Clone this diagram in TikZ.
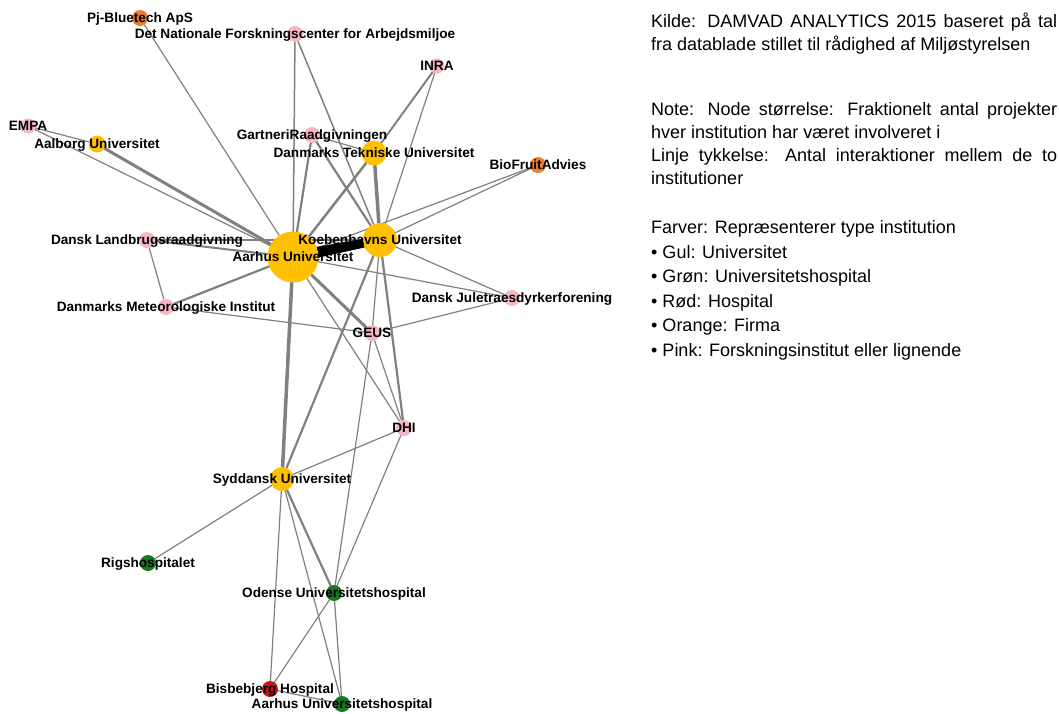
\documentclass[tikz,border=0pt]{standalone}
\usepackage{fontspec}
\setmainfont{Liberation Sans}
\usetikzlibrary{backgrounds,calc}
\definecolor{gul}{RGB}{255,192,0}
\definecolor{lyserod}{RGB}{246,182,194}
\definecolor{orangefirma}{RGB}{237,125,49}
\definecolor{groen}{RGB}{22,120,32}
\definecolor{roed}{RGB}{200,20,20}
\definecolor{kant}{RGB}{128,128,128}

\begin{document}
\begin{tikzpicture}[x=1pt, y=-1pt,
  inst/.style={circle, inner sep=0pt, minimum size=16pt},
  univ/.style={inst, fill=gul},
  forsk/.style={inst, fill=lyserod},
  firma/.style={inst, fill=orangefirma},
  uhosp/.style={inst, fill=groen},
  hosp/.style={inst, fill=roed},
  forb/.style={draw=kant, line cap=round},
  lbl/.style={font=\bfseries\fontsize{13.6}{15}\selectfont, inner sep=0pt, anchor=base},
  txt/.style={font=\fontsize{18}{22}\selectfont, inner sep=0pt, anchor=base west}]
\useasboundingbox (0,0) rectangle (1059,713);

% institutioner
\node[firma] (pj) at (140,18) {};
\node[forsk] (dnfa) at (295,34) {};
\node[forsk, minimum size=15pt] (inra) at (437,66) {};
\node[forsk, minimum size=15pt] (empa) at (28,126) {};
\node[univ, minimum size=17pt] (aau) at (97,144) {};
\node[forsk] (gartneri) at (312,135) {};
\node[univ, minimum size=25pt] (dtu) at (374,153) {};
\node[firma] (bio) at (538,165) {};
\node[forsk] (dl) at (147,240) {};
\node[univ, minimum size=51pt] (au) at (293,257) {};
\node[univ, minimum size=34pt] (ku) at (380,240) {};
\node[forsk] (dmi) at (166,307) {};
\node[forsk] (dj) at (512,298) {};
\node[forsk] (geus) at (372,333) {};
\node[forsk] (dhi) at (404,428) {};
\node[univ, minimum size=24pt] (sdu) at (282,479) {};
\node[uhosp] (rigs) at (148,563) {};
\node[uhosp] (ouh) at (334,593) {};
\node[hosp] (bbh) at (270,689) {};
\node[uhosp] (auh) at (342,704) {};

% forbindelser
\begin{scope}[on background layer]
\foreach \a/\b/\w in {empa/aau/1.2, empa/au/1.2, aau/au/3, pj/au/1.2, dnfa/au/1.5,
    dnfa/ku/1.5, inra/dtu/2, inra/ku/1.2, gartneri/dtu/1.2, gartneri/au/2.2,
    gartneri/ku/2.2, dtu/au/2.5, dtu/ku/3.5, bio/au/1.2, bio/ku/1.2, dl/ku/1.2,
    dl/au/2, dl/dmi/1.2, dmi/au/2.2, dmi/geus/1.2, au/geus/3, au/dhi/1.2,
    au/dj/1.2, au/sdu/3.5, ku/dj/1.2, ku/geus/1.2, ku/dhi/2.2, ku/sdu/2.2,
    geus/dj/1.2, geus/dhi/1.2, geus/ouh/1.2, dhi/sdu/1.2, dhi/ouh/1.2,
    rigs/sdu/1.2, sdu/ouh/2.2, sdu/bbh/1.2, sdu/auh/1.2, ouh/bbh/1.2,
    ouh/auh/1.2, bbh/auh/1.2}
  \draw[forb, line width=\w pt] (\a) -- (\b);
\fill[black] ($(au)!6pt!90:(ku)$) -- ($(ku)!4pt!-90:(au)$)
  -- ($(ku)!4pt!90:(au)$) -- ($(au)!6pt!-90:(ku)$) -- cycle;
\end{scope}

% navne
\foreach \n/\t in {pj/Pj-Bluetech ApS, dnfa/Det Nationale Forskningscenter for Arbejdsmiljoe,
    inra/INRA, empa/EMPA, aau/Aalborg Universitet, gartneri/GartneriRaadgivningen,
    dtu/Danmarks Tekniske Universitet, bio/BioFruitAdvies, dl/Dansk Landbrugsraadgivning,
    au/Aarhus Universitet, ku/Koebenhavns Universitet, dmi/Danmarks Meteorologiske Institut,
    dj/Dansk Juletraesdyrkerforening, geus/GEUS, dhi/DHI, sdu/Syddansk Universitet,
    rigs/Rigshospitalet, ouh/Odense Universitetshospital, bbh/Bisbebjerg Hospital,
    auh/Aarhus Universitetshospital}
  \node[lbl] (\n-navn) at ($(\n)+(0,4.8)$) {\t};

% forklaring
\node[txt] (kilde) at (651,27.5) {\makebox[406pt][s]{Kilde: DAMVAD ANALYTICS 2015 baseret på tal}};
\node[txt] (kilde2) at (651,50) {fra datablade stillet til rådighed af Miljøstyrelsen};
\node[txt] (note) at (651,115.5) {\makebox[406pt][s]{Note: Node størrelse: Fraktionelt antal projekter}};
\node[txt] (note2) at (651,138.5) {hver institution har været involveret i};
\node[txt] (linje) at (651,161.5) {\makebox[406pt][s]{Linje tykkelse: Antal interaktioner mellem de to}};
\node[txt] (linje2) at (651,184.5) {institutioner};
\node[txt] (farver) at (651,233.5) {Farver: Repræsenterer type institution};
\foreach \t [count=\i] in {Gul: Universitet, Grøn: Universitetshospital, Rød: Hospital,
    Orange: Firma, Pink: Forskningsinstitut eller lignende}
  \node[txt] (farve\i) at (651,233.5+24.5*\i) {• \t};
\end{tikzpicture}
\end{document}
